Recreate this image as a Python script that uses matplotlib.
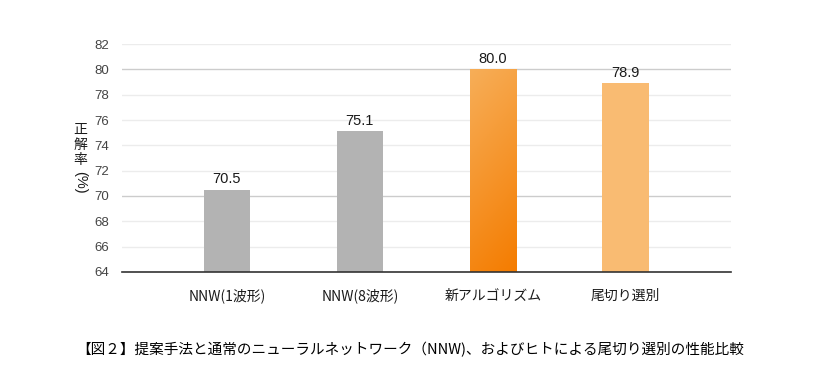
import matplotlib.pyplot as plt
import numpy as np
from matplotlib.colors import LinearSegmentedColormap

plt.rcParams['font.family'] = ['Noto Sans CJK JP', 'DejaVu Sans']

categories = ['NNW(1波形)', 'NNW(8波形)', '新アルゴリズム', '尾切り選別']
accuracy = [70.5, 75.1, 80.0, 78.9]
bar_colors = ['#b3b3b3', '#b3b3b3', '#f5951f', '#f9bb72']
yticks = [64, 66, 68, 70, 72, 74, 76, 78, 80, 82]

fig = plt.figure(figsize=(8.16, 3.67), dpi=100)
ax = fig.add_axes([0.1495, 0.259, 0.746, 0.621])

x = np.arange(len(categories))
bars = ax.bar(x, accuracy, width=0.35, color=bar_colors, zorder=3)

# gradient fill for the new algorithm bar (light top-left -> dark bottom-right)
grad = LinearSegmentedColormap.from_list('g', ['#f7ae58', '#f47c00'])
b = bars[2]
bx, bw, bh = b.get_x(), b.get_width(), b.get_height()
zz = np.add.outer(np.linspace(0, 1, 100), np.linspace(0, 0.25, 50))
im = ax.imshow(zz, cmap=grad, extent=[bx, bx + bw, 64, bh], aspect='auto',
               origin='upper', zorder=4)
im.set_clip_path(b)
b.set_alpha(0)

for xi, v in zip(x, accuracy):
    ax.text(xi, v + 0.25, f'{v:.1f}', ha='center', va='bottom', fontsize=10.5,
            color='#1a1a1a', family='Liberation Sans', zorder=5)

ax.set_ylim(64, 82)
ax.set_xlim(-0.79, 3.79)
ax.set_yticks(yticks)
ax.set_yticklabels([str(t) for t in yticks], family='Liberation Sans', fontsize=9.5, color='#444444')
ax.set_xticks(x)
ax.set_xticklabels(categories, fontsize=10, color='#1a1a1a')
ax.tick_params(length=0)
ax.tick_params(axis='x', pad=12)
ax.tick_params(axis='y', pad=9)

for t in yticks:
    c = '#cccccc' if t in (70, 80) else '#ececec'
    ax.axhline(t, color=c, linewidth=1, zorder=1)

for s in ['top', 'right', 'left']:
    ax.spines[s].set_visible(False)
ax.spines['bottom'].set_color('#333333')
ax.spines['bottom'].set_linewidth(1.2)
ax.spines['bottom'].set_zorder(6)

# vertical Japanese y label
fig.text(80 / 816, 1 - 145 / 367, '正\n解\n率', ha='center', va='center', fontsize=10,
         linespacing=1.05, color='#1a1a1a')
fig.text(80 / 816, 1 - 182 / 367, '(%)', ha='center', va='center', fontsize=10.5,
         rotation=-90, color='#1a1a1a', family='Liberation Sans')

fig.text(0.503, 1 - 350 / 367,
         '【図２】提案手法と通常のニューラルネットワーク（NNW)、およびヒトによる尾切り選別の性能比較',
         ha='center', va='center', fontsize=10.5, color='#000000')

fig.savefig('out.png', dpi=100)
